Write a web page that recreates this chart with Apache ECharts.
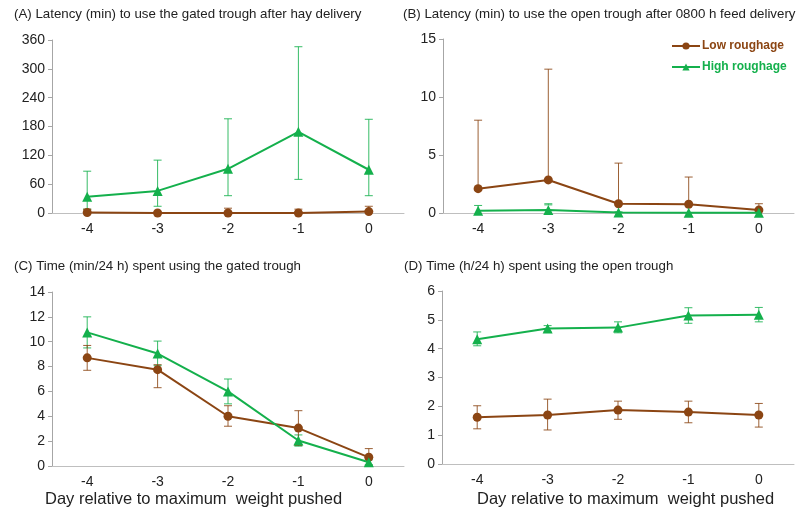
<!DOCTYPE html>
<html>
<head>
<meta charset="utf-8">
<script src="https://cdn.jsdelivr.net/npm/echarts@6/dist/echarts.min.js"></script>
<style>html,body{margin:0;padding:0;background:#fff}#c{width:799px;height:510px}</style>
</head>
<body>
<div id="c"></div>
<script>
var days = ['-4', '-3', '-2', '-1', '0'];

// Panel A: latency (min) gated trough
var aLowMean = [1, 0, 0, 0, 3];
var aLowHi = [8, 2, 10, 8, 14];
var aLowLo = [null, null, null, null, null];
var aHighMean = [34, 46, 92, 169, 90];
var aHighHi = [87, 110, 196, 346, 195];
var aHighLo = [8, 14, 36, 70, 36];

// Panel B: latency (min) open trough
var bLowMean = [2.1, 2.85, 0.8, 0.75, 0.25];
var bLowHi = [8.0, 12.4, 4.3, 3.1, 0.8];
var bLowLo = [null, null, null, null, null];
var bHighMean = [0.2, 0.25, 0.05, 0.02, 0.02];
var bHighHi = [0.65, 0.8, 0.1, null, null];
var bHighLo = [null, 0.7, null, null, null];

// Panel C: time (min/24 h) gated trough
var cLowMean = [8.7, 7.75, 4.0, 3.05, 0.7];
var cLowHi = [9.7, 8.15, 4.85, 4.45, 1.4];
var cLowLo = [7.7, 6.3, 3.2, 1.65, 0.05];
var cHighMean = [10.75, 9.05, 6.0, 2.05, 0.3];
var cHighHi = [12.0, 10.05, 7.0, 2.5, 0.5];
var cHighLo = [9.5, 8.1, 5.0, 1.6, 0.1];

// Panel D: time (h/24 h) open trough
var dLowMean = [1.62, 1.7, 1.87, 1.8, 1.7];
var dLowHi = [2.02, 2.25, 2.18, 2.18, 2.1];
var dLowLo = [1.22, 1.18, 1.55, 1.43, 1.28];
var dHighMean = [4.33, 4.7, 4.73, 5.15, 5.18];
var dHighHi = [4.58, 4.8, 4.93, 5.42, 5.43];
var dHighLo = [4.1, 4.58, 4.55, 4.88, 4.93];

var titles = [
  '(A) Latency (min) to use the gated trough after hay delivery',
  '(B) Latency (min) to use the open trough after 0800 h feed delivery',
  '(C) Time (min/24 h) spent using the gated trough',
  '(D) Time (h/24 h) spent using the open trough'
];
var xName = 'Day relative to maximum  weight pushed';

var BROWN = '#8B4513';
var GREEN = '#14B04C';
var FONT = 'Liberation Sans, Arial, sans-serif';

var grids = [
  {left: 52, top: 40, width: 352, height: 173},
  {left: 443, top: 39, width: 351, height: 174},
  {left: 52, top: 292, width: 352, height: 174},
  {left: 442, top: 291, width: 352, height: 173}
];
var yRanges = [[0, 360, 60], [0, 15, 5], [0, 14, 2], [0, 6, 1]];

var xAxes = grids.map(function (g, i) {
  return {
    type: 'category', gridIndex: i, data: days, boundaryGap: true,
    axisLine: {lineStyle: {color: '#BFBFBF', width: 1}},
    axisTick: {show: false},
    axisLabel: {color: '#222', fontSize: 14, fontFamily: FONT, margin: 9}
  };
});
var yAxes = grids.map(function (g, i) {
  return {
    type: 'value', gridIndex: i, min: yRanges[i][0], max: yRanges[i][1], interval: yRanges[i][2],
    axisLine: {show: true, lineStyle: {color: '#A6A6A6', width: 1}},
    axisTick: {show: true, length: 4, lineStyle: {color: '#A6A6A6'}},
    splitLine: {show: false},
    axisLabel: {color: '#222', fontSize: 14, fontFamily: FONT, margin: 7}
  };
});

function errData(lo, hi) {
  return days.map(function (d, i) { return [i, lo[i] == null ? -1e9 : lo[i], hi[i] == null ? -1e9 : hi[i]]; });
}
function errRender(color) {
  return function (params, api) {
    var x = api.value(0), lo = api.value(1), hi = api.value(2);
    var mean = params.seriesMean[x];
    var children = [];
    var cap = 4;
    var top = hi > -1e8 ? hi : mean;
    var hasLo = lo > -1e8;
    var bottom = hasLo ? Math.max(lo, 0) : mean;
    var pT = api.coord([x, top]);
    var pB = api.coord([x, bottom]);
    var cx = pT[0];
    var st = {stroke: color, lineWidth: 1, opacity: 0.85};
    children.push({type: 'line', shape: {x1: cx, y1: pT[1], x2: cx, y2: pB[1]}, style: st});
    if (hi > -1e8) children.push({type: 'line', shape: {x1: cx - cap, y1: pT[1], x2: cx + cap, y2: pT[1]}, style: st});
    if (hasLo && lo >= 0) children.push({type: 'line', shape: {x1: cx - cap, y1: pB[1], x2: cx + cap, y2: pB[1]}, style: st});
    return {type: 'group', children: children};
  };
}

var panels = [
  [aLowMean, aLowLo, aLowHi, aHighMean, aHighLo, aHighHi],
  [bLowMean, bLowLo, bLowHi, bHighMean, bHighLo, bHighHi],
  [cLowMean, cLowLo, cLowHi, cHighMean, cHighLo, cHighHi],
  [dLowMean, dLowLo, dLowHi, dHighMean, dHighLo, dHighHi]
];

var series = [];
panels.forEach(function (p, i) {
  [[p[3], p[4], p[5], GREEN, 'High roughage'], [p[0], p[1], p[2], BROWN, 'Low roughage']].forEach(function (s) {
    var mean = s[0], color = s[3];
    var rend = errRender(color);
    series.push({
      type: 'custom', xAxisIndex: i, yAxisIndex: i, silent: true, clip: false,
      data: errData(s[1], s[2]), encode: {x: 0, y: [1, 2]},
      renderItem: function (params, api) { params.seriesMean = mean; return rend(params, api); },
      z: 2
    });
  });
  series.push({
    name: 'Low roughage', type: 'line', xAxisIndex: i, yAxisIndex: i, data: p[0],
    symbol: 'circle', symbolSize: 9, itemStyle: {color: BROWN}, lineStyle: {color: BROWN, width: 2}, z: 3
  });
  series.push({
    name: 'High roughage', type: 'line', xAxisIndex: i, yAxisIndex: i, data: p[3],
    symbol: 'triangle', symbolSize: 10, itemStyle: {color: GREEN}, lineStyle: {color: GREEN, width: 2}, z: 4
  });
});

var titleOpts = [
  {text: titles[0], left: 14, top: 8},
  {text: titles[1], left: 403, top: 8},
  {text: titles[2], left: 14, top: 260},
  {text: titles[3], left: 404, top: 260}
].map(function (t) {
  return {text: t.text, left: t.left, top: t.top, padding: 0,
    textStyle: {fontSize: 13.3, fontWeight: 'normal', color: '#222', fontFamily: FONT}};
});

var chart = echarts.init(document.getElementById('c'));
chart.setOption({
  animation: false,
  backgroundColor: '#fff',
  title: titleOpts,
  grid: grids,
  xAxis: xAxes,
  yAxis: yAxes,
  legend: {
    orient: 'vertical', left: 666, top: 35, itemGap: 9, itemWidth: 28, itemHeight: 9,
    data: [
      {name: 'Low roughage', textStyle: {color: BROWN}},
      {name: 'High roughage', textStyle: {color: GREEN}}
    ],
    textStyle: {fontSize: 12, fontWeight: 'bold', fontFamily: FONT, padding: [0, 0, 0, -3]}
  },
  graphic: [
    {type: 'text', left: 45, top: 491, style: {text: xName, fontSize: 16.5, fill: '#222', fontFamily: FONT}},
    {type: 'text', left: 477, top: 491, style: {text: xName, fontSize: 16.5, fill: '#222', fontFamily: FONT}}
  ],
  series: series
});
</script>
</body>
</html>
